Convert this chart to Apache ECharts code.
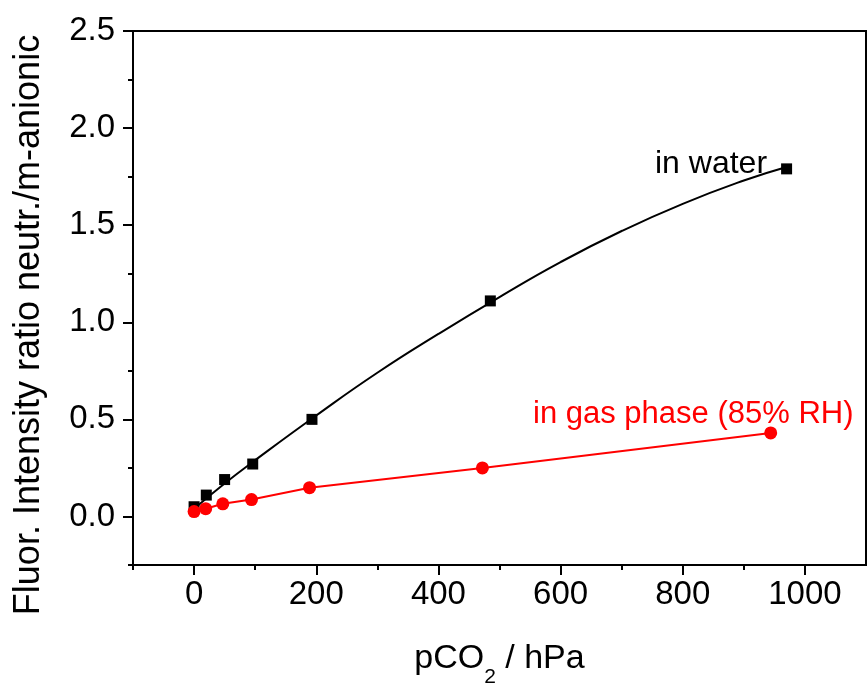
<!DOCTYPE html>
<html>
<head>
<meta charset="utf-8">
<script src="https://cdn.jsdelivr.net/npm/echarts@6/dist/echarts.min.js"></script>
<style>html,body{margin:0;padding:0;background:#fff}#c{width:868px;height:693px}</style>
</head>
<body>
<div id="c"></div>
<script>
// Data
const waterX = [0, 20, 50, 96, 193, 485, 970];
const waterY = [0.05, 0.11, 0.19, 0.27, 0.50, 1.11, 1.79];
const gasX = [0, 19, 47, 94, 189, 472, 944];
const gasY = [0.025, 0.04, 0.065, 0.087, 0.148, 0.25, 0.43];

// Fit curve through the water data
const waterFitX = [0, 50, 100, 200, 300, 400, 500, 600, 700, 800, 900, 970];
const waterFitY = [0.04, 0.17, 0.29, 0.52, 0.74, 0.94, 1.13, 1.31, 1.47, 1.61, 1.73, 1.80];

const xMajorTicks = [0, 200, 400, 600, 800, 1000];
const xMinorTicks = [-100, 100, 300, 500, 700, 900];
const yMajorTicks = [0, 0.5, 1.0, 1.5, 2.0, 2.5];
const yMinorTicks = [-0.25, 0.25, 0.75, 1.25, 1.75, 2.25];

const waterLabel = 'in water';
const gasLabel = 'in gas phase (85% RH)';
const yTitle = 'Fluor. Intensity ratio neutr./m-anionic';

const FONT = '"Liberation Sans", Arial, sans-serif';
const chart = echarts.init(document.getElementById('c'));

const axisBase = { min: -100, max: 1100, interval: 100 };
const yBase = { min: -0.25, max: 2.5 };

chart.setOption({
  animation: false,
  backgroundColor: '#fff',
  grid: {
    left: 133, top: 31, right: 2, bottom: 124,
    show: true, borderColor: '#000', borderWidth: 2, backgroundColor: 'transparent'
  },
  xAxis: [
    Object.assign({
      type: 'value', position: 'bottom',
      name: '{n|pCO}{s|2}{n| / hPa}',
      nameLocation: 'middle', nameGap: 65,
      nameTextStyle: {
        rich: {
          n: { fontFamily: FONT, fontSize: 34, color: '#000', lineHeight: 58 },
          s: { fontFamily: FONT, fontSize: 21, color: '#000', lineHeight: 21, verticalAlign: 'bottom' }
        }
      },
      axisLine: { show: true, onZero: false, lineStyle: { color: '#000', width: 2 } },
      axisTick: { show: true, customValues: xMajorTicks, length: 10, lineStyle: { color: '#000', width: 2 } },
      axisLabel: { customValues: xMajorTicks, fontFamily: FONT, fontSize: 33, color: '#000', margin: 13,
        formatter: v => String(v) },
      splitLine: { show: false }
    }, axisBase),
    Object.assign({
      type: 'value', position: 'bottom', offset: 0,
      axisLine: { show: false, onZero: false },
      axisTick: { show: true, customValues: xMinorTicks, length: 5, lineStyle: { color: '#000', width: 2 } },
      axisLabel: { show: false },
      splitLine: { show: false }
    }, axisBase)
  ],
  yAxis: [
    Object.assign({
      type: 'value', position: 'left',
      axisLine: { show: true, onZero: false, lineStyle: { color: '#000', width: 2 } },
      axisTick: { show: true, customValues: yMajorTicks, length: 10, lineStyle: { color: '#000', width: 2 } },
      axisLabel: { customValues: yMajorTicks, fontFamily: FONT, fontSize: 33, color: '#000', margin: 18,
        formatter: v => v.toFixed(1) },
      splitLine: { show: false }
    }, yBase),
    Object.assign({
      type: 'value', position: 'left', offset: 0,
      axisLine: { show: false, onZero: false },
      axisTick: { show: true, customValues: yMinorTicks, length: 5, lineStyle: { color: '#000', width: 2 } },
      axisLabel: { show: false },
      splitLine: { show: false }
    }, yBase)
  ],
  graphic: [
    { type: 'text', x: 655, y: 164, style: { text: waterLabel, font: '32px ' + FONT, fill: '#000', textVerticalAlign: 'middle' }, z: 10 },
    { type: 'text', x: 533, y: 414, style: { text: gasLabel, font: '31px ' + FONT, fill: '#ff0000', textVerticalAlign: 'middle' }, z: 10 },
    { type: 'text', x: 29.5, y: 325, rotation: Math.PI / 2,
      style: { text: yTitle, font: '36px ' + FONT, fill: '#000', textAlign: 'center', textVerticalAlign: 'middle' }, z: 10 }
  ],
  series: [
    {
      name: waterLabel + ' fit', type: 'line', xAxisIndex: 0, yAxisIndex: 0,
      data: waterFitX.map((x, i) => [x, waterFitY[i]]),
      symbol: 'none', smooth: true,
      lineStyle: { color: '#000', width: 2 }, z: 2
    },
    {
      name: waterLabel, type: 'scatter', xAxisIndex: 0, yAxisIndex: 0,
      data: waterX.map((x, i) => [x, waterY[i]]),
      symbol: 'rect', symbolSize: 11,
      itemStyle: { color: '#000', opacity: 1 }, z: 3
    },
    {
      name: gasLabel, type: 'line', xAxisIndex: 0, yAxisIndex: 0,
      data: gasX.map((x, i) => [x, gasY[i]]),
      symbol: 'circle', symbolSize: 13, showAllSymbol: true,
      itemStyle: { color: '#ff0000', opacity: 1 }, lineStyle: { color: '#ff0000', width: 2 }, z: 4
    }
  ]
});
</script>
</body>
</html>
